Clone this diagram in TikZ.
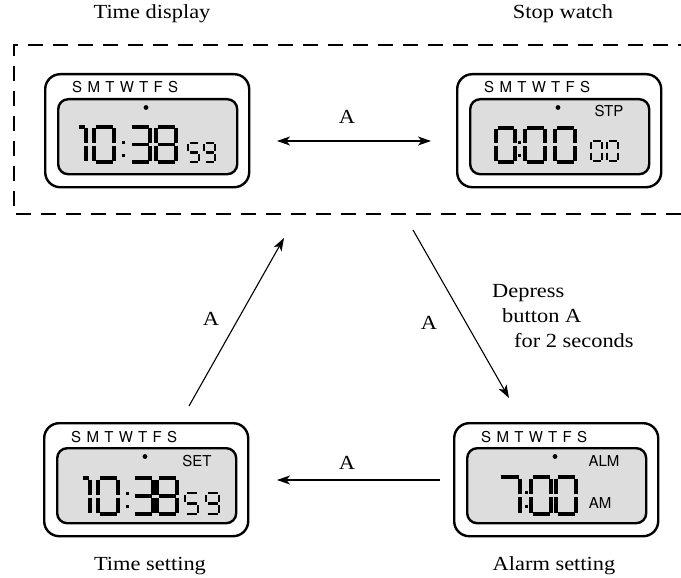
\documentclass[tikz,border=0pt]{standalone}
\usepackage{fontspec}
\newfontfamily\lcdfont{TeX Gyre Heros}
\newfontfamily\captionfont{Liberation Serif}[FakeStretch=1.12]
\usetikzlibrary{arrows.meta}
\definecolor{lcdgray}{RGB}{221,221,221}

\tikzset{
  watchcase/.style={draw, line width=2.4pt, rounded corners=15pt,
    minimum width=204pt, minimum height=113pt, inner sep=0pt, anchor=north west},
  lcdpanel/.style={draw, fill=lcdgray, line width=2.4pt, rounded corners=10pt,
    minimum width=179pt, minimum height=75pt, inner sep=0pt, anchor=north west},
  dayrow/.style={font=\lcdfont\fontsize{15}{15}\selectfont, inner sep=0pt, anchor=base west},
  modetag/.style={font=\lcdfont\fontsize{15}{15}\selectfont, inner sep=0pt},
  caption/.style={font=\captionfont\fontsize{20}{24}\selectfont, inner sep=0pt, anchor=base},
  seg/.style={line width=3.3pt},
  smallseg/.style={line width=2.5pt},
  flow/.style={line width=1.1pt, -{Stealth[length=13pt,width=9pt,inset=3.5pt]}},
  dualflow/.style={line width=1.1pt,
    {Stealth[length=13pt,width=9pt,inset=3.5pt]}-{Stealth[length=13pt,width=9pt,inset=3.5pt]}},
  frame/.style={line width=2pt, dash pattern=on 15pt off 10pt},
}

% weekday row printed on every watch face
\newcommand\weekdays{S\kern5.3pt M\kern5.3pt T\kern5.3pt W\kern5.3pt T\kern5.3pt F\kern5.3pt S}

% case, display panel, weekday row and indicator dot of one watch
\newcommand\watch[3]{%
  \begin{scope}[shift={(#2,#3)}]
    \node[watchcase] (#1) at (0,0) {};
    \node[lcdpanel] (#1-lcd) at (13,25) {};
    \node[dayrow] (#1-days) at (28,20) {\weekdays};
    \fill (102,34.5) circle (2.4);
  \end{scope}}

% seven-segment digit: style, left, top, width, height, list of lit segments
\newcommand\sevenseg[6]{%
  \begin{scope}[shift={(#2,#3)}]
    \def\dw{#4}\def\dh{#5}\def\sg{1.5}
    \foreach \s in {#6}{%
      \if a\s \draw[#1] (\sg,0) -- (\dw-\sg,0);\fi
      \if b\s \draw[#1] (\dw,\sg) -- (\dw,\dh/2-\sg);\fi
      \if c\s \draw[#1] (\dw,\dh/2+\sg) -- (\dw,\dh-\sg);\fi
      \if d\s \draw[#1] (\sg,\dh) -- (\dw-\sg,\dh);\fi
      \if e\s \draw[#1] (0,\dh/2+\sg) -- (0,\dh-\sg);\fi
      \if f\s \draw[#1] (0,\sg) -- (0,\dh/2-\sg);\fi
      \if g\s \draw[#1] (\sg,\dh/2) -- (\dw-\sg,\dh/2);\fi
      \if t\s \draw[#1] (\dw-7.5,0) -- (\dw-\sg,0);\fi
    }
  \end{scope}}

% colon between hours and minutes: centre x, top, height
\newcommand\lcdcolon[3]{%
  \fill (#1-1.5,#2+0.39*#3) rectangle ++(3,3);
  \fill (#1-1.5,#2+0.76*#3) rectangle ++(3,3);}

\begin{document}
\begin{tikzpicture}[x=1pt, y=-1pt]
\useasboundingbox (0,0) rectangle (681,578);

% group frame round the two normal modes
\draw[frame] (681,214) -- (14,214) -- (14,45) -- (681,45);

% ---- Time display ----
\watch{td}{44}{73}
\sevenseg{seg}{78}{127}{8}{35}{t,b,c}
\sevenseg{seg}{94}{127}{20}{35}{a,b,c,d,e,f}
\lcdcolon{123}{127}{35}
\sevenseg{seg}{130}{127}{20}{35}{a,b,c,d,g}
\sevenseg{seg}{156}{127}{20}{35}{a,b,c,d,e,f,g}
\sevenseg{smallseg}{188}{143}{11}{19}{a,f,g,c,d}
\sevenseg{smallseg}{204}{143}{11}{19}{a,b,c,d,f,g}
\node[caption] (cap-td) at (152,19) {Time display};

% ---- Stop watch ----
\watch{sw}{456}{73}
\node[modetag] (tag-sw) at (609,111) {STP};
\sevenseg{seg}{496}{128}{19}{34}{a,b,c,d,e,f}
\lcdcolon{519}{128}{34}
\sevenseg{seg}{525}{128}{20}{34}{a,b,c,d,e,f}
\sevenseg{seg}{555}{128}{20}{34}{a,b,c,d,e,f}
\sevenseg{smallseg}{591}{141}{11}{20}{a,b,c,d,e,f}
\sevenseg{smallseg}{607}{141}{11}{20}{a,b,c,d,e,f}
\node[caption] (cap-sw) at (563,19) {Stop watch};

% ---- Time setting ----
\watch{ts}{43}{422}
\node[modetag] (tag-ts) at (197,461) {SET};
\sevenseg{seg}{82}{478}{8}{36}{t,b,c}
\sevenseg{seg}{98}{478}{20}{36}{a,b,c,d,e,f}
\lcdcolon{127}{478}{36}
\sevenseg{seg}{133}{478}{20}{36}{a,b,c,d,g}
\sevenseg{seg}{157}{478}{20}{36}{a,b,c,d,e,f,g}
\sevenseg{smallseg}{185}{493}{13}{21}{a,f,g,c,d}
\sevenseg{smallseg}{206}{493}{13}{21}{a,b,c,d,f,g}
\node[caption] (cap-ts) at (150,570) {Time setting};

% ---- Alarm setting ----
\watch{as}{453}{422}
\node[modetag] (tag-as) at (604,461) {ALM};
\node[modetag] (tag-am) at (600,503) {AM};
\sevenseg{seg}{499}{477}{21}{37}{a,b,c}
\lcdcolon{526}{477}{37}
\sevenseg{seg}{531}{477}{20}{37}{a,b,c,d,e,f}
\sevenseg{seg}{556}{477}{20}{37}{a,b,c,d,e,f}
\node[caption] (cap-as) at (554,570) {Alarm setting};

% ---- transitions ----
\coordinate (h1) at (277,141);
\coordinate (h2) at (431,141);
\draw[dualflow] (h1) -- (h2);
\node[caption] (lab-top) at (347,124) {A};

\coordinate (b1) at (440,480);
\coordinate (b2) at (277,480);
\draw[flow] (b1) -- (b2);
\node[caption] (lab-bot) at (347,469) {A};

\coordinate (u1) at (189,406);
\coordinate (u2) at (284,238);
\draw[flow] (u1) -- (u2);
\node[caption] (lab-up) at (211,325) {A};

\coordinate (d1) at (413,230);
\coordinate (d2) at (509,398);
\draw[flow] (d1) -- (d2);
\node[caption] (lab-down) at (429,329) {A};

\node[caption, anchor=base west] (note1) at (492,297) {Depress};
\node[caption, anchor=base west] (note2) at (502,322) {button A};
\node[caption, anchor=base west] (note3) at (514,347) {for 2 seconds};
\end{tikzpicture}
\end{document}
